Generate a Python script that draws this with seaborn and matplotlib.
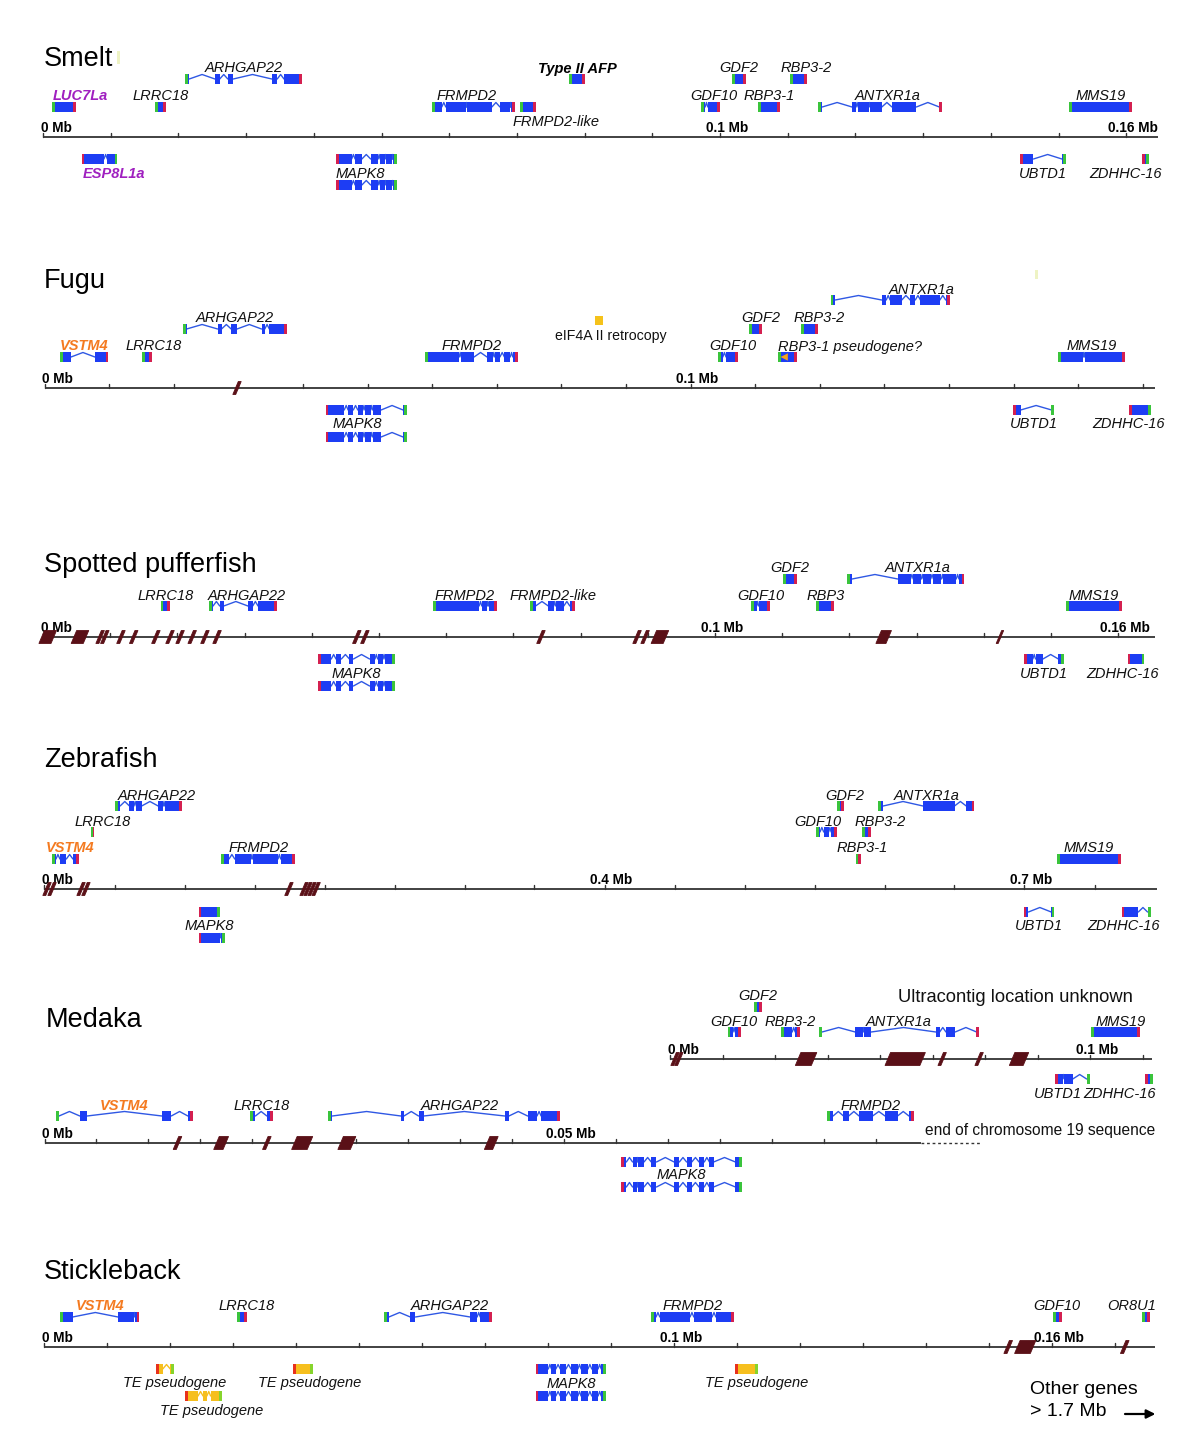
import numpy as np
import matplotlib
matplotlib.use("Agg")
import matplotlib.pyplot as plt
import seaborn as sns
from matplotlib.patches import Polygon, Rectangle

sns.set_theme(style="white")
plt.rcParams['font.family'] = ['Liberation Sans', 'DejaVu Sans']

# ------------------------------------------------------------------ data (kb)
SMELT_GENES = [
    ("LUC7La", [(1.4, 4.9)], "A"),
    ("LRRC18", [(16.5, 18.2)], "A"),
    ("ARHGAP22", [(21.0, 21.6), (25.4, 26.1), (27.3, 28.1), (33.8, 34.6), (35.6, 38.3)], "B"),
    ("FRMPD2", [(57.5, 58.9), (59.5, 62.5), (62.6, 66.3), (67.5, 69.0), (69.1, 69.7)], "A"),
    ("FRMPD2-like", [(70.5, 72.8)], "A"),
    ("Type II AFP", [(77.7, 80.1)], "B"),
    ("GDF10", [(97.2, 97.8), (98.2, 100.0)], "A"),
    ("GDF2", [(101.8, 103.8)], "B"),
    ("RBP3-1", [(105.6, 108.9)], "A"),
    ("RBP3-2", [(110.3, 112.8)], "B"),
    ("ANTXR1a", [(114.5, 115.1), (119.5, 120.1), (120.4, 122.0), (122.2, 123.9), (125.4, 129.0), (132.4, 132.8)], "A"),
    ("MMS19", [(151.6, 160.9)], "A"),
    ("ESP8L1a", [(5.7, 9.0), (9.5, 11.0)], "L1"),
    ("MAPK8", [(43.3, 45.6), (46.1, 47.1), (48.4, 49.5), (49.8, 50.5), (50.7, 51.6), (51.7, 52.3)], "L1"),
    ("", [(43.3, 45.6), (46.1, 47.1), (48.4, 49.5), (49.8, 50.5), (50.7, 51.6), (51.7, 52.3)], "L2"),
    ("UBTD1", [(144.3, 146.3), (150.5, 151.1)], "L1"),
    ("ZDHHC-16", [(162.3, 163.4)], "L1"),
]
SMELT_BREAKS = []
SMELT_TICKS = [(0, "0 Mb"), (100, "0.1 Mb"), (160, "0.16 Mb")]
SMELT_FAINT = (10.9, 11.4)

FUGU_GENES = [
    ("VSTM4", [(2.4, 4.1), (7.8, 9.9)], "A"),
    ("LRRC18", [(15.1, 16.6)], "A"),
    ("ARHGAP22", [(21.4, 22.0), (26.8, 27.4), (28.9, 29.8), (33.6, 34.1), (34.8, 37.5)], "B"),
    ("FRMPD2", [(58.9, 64.2), (64.5, 66.5), (68.5, 69.4), (69.7, 70.5), (71.2, 72.1), (72.5, 73.3)], "A"),
    ("GDF10", [(104.3, 105.0), (105.5, 107.3)], "A"),
    ("RBP3-1 pseudogene?", [(113.5, 116.5)], "A"),
    ("GDF2", [(109.1, 111.0)], "B"),
    ("RBP3-2", [(117.1, 119.7)], "B"),
    ("ANTXR1a", [(121.7, 122.4), (129.6, 130.3), (130.9, 132.7), (134.0, 134.8), (135.6, 138.6), (139.5, 140.1)], "C"),
    ("MMS19", [(156.9, 160.8), (161.0, 167.3)], "A"),
    ("MAPK8", [(43.5, 46.4), (47.0, 47.8), (48.5, 49.3), (49.6, 50.5), (50.8, 52.1), (55.5, 56.1)], "L1"),
    ("", [(43.5, 46.4), (47.0, 47.8), (48.5, 49.3), (49.6, 50.5), (50.8, 52.1), (55.5, 56.1)], "L2"),
    ("UBTD1", [(149.9, 151.1), (155.9, 156.3)], "L1"),
    ("ZDHHC-16", [(167.9, 171.3)], "L1"),
]
FUGU_BREAKS = [(29.8, 0.45)]
FUGU_TICKS = [(0, "0 Mb"), (100, "0.1 Mb")]
FUGU_RETRO = (85.2, 86.5)          # eIF4A II retrocopy
FUGU_PSEUDO_MARK = 114.5           # triangle inside RBP3-1 pseudogene
FUGU_FAINT = (153.3, 153.8)

SPOT_GENES = [
    ("LRRC18", [(17.5, 18.9)], "A"),
    ("ARHGAP22", [(24.7, 25.3), (26.3, 26.9), (30.5, 31.2), (32.0, 34.8)], "A"),
    ("FRMPD2", [(58.1, 64.9), (65.3, 66.1), (66.3, 67.5)], "A"),
    ("FRMPD2-like", [(72.5, 73.3), (75.2, 76.0), (76.3, 77.5), (78.4, 79.2)], "A"),
    ("GDF10", [(105.4, 106.2), (106.5, 108.2)], "A"),
    ("RBP3", [(115.1, 117.7)], "A"),
    ("MMS19", [(152.2, 160.6)], "A"),
    ("GDF2", [(110.1, 112.2)], "B"),
    ("ANTXR1a", [(119.6, 120.4), (127.2, 129.1), (129.5, 130.7), (131.0, 132.1), (132.5, 133.7), (134.0, 135.9), (136.3, 137.1)], "B"),
    ("MAPK8", [(40.9, 42.9), (43.6, 44.4), (45.6, 46.2), (48.6, 49.4), (49.8, 50.6), (50.9, 52.4)], "L1"),
    ("", [(40.9, 42.9), (43.6, 44.4), (45.6, 46.2), (48.6, 49.4), (49.8, 50.6), (50.9, 52.4)], "L2"),
    ("UBTD1", [(146.0, 147.3), (147.7, 148.8), (151.1, 151.9)], "L1"),
    ("ZDHHC-16", [(161.4, 163.9)], "L1"),
]
SPOT_BREAKS = [(0.7, 1.8), (5.5, 1.8), (8.5, 0.45), (9.2, 0.45), (11.6, 0.45), (13.5, 0.45),
               (16.8, 0.45), (18.9, 0.45), (20.4, 0.45), (22.2, 0.45), (24.1, 0.45), (25.9, 0.45),
               (46.7, 0.45), (47.9, 0.45), (74.1, 0.45), (88.4, 0.45), (89.6, 0.45), (91.8, 1.8),
               (125.1, 1.5), (142.4, 0.3)]
SPOT_TICKS = [(0, "0 Mb"), (100, "0.1 Mb"), (160, "0.16 Mb")]

ZEB_GENES = [
    ("VSTM4", [(5.5, 8.2), (11.0, 15.6), (20.3, 24.6)], "A"),
    ("FRMPD2", [(126.4, 131.8), (135.9, 147.6), (148.7, 166.8), (168.7, 178.8)], "A"),
    ("RBP3-1", [(579.6, 583.1)], "A"),
    ("MMS19", [(723.1, 768.9)], "A"),
    ("LRRC18", [(33.4, 35.6)], "B"),
    ("GDF10", [(550.9, 553.9), (556.6, 560.1), (561.9, 565.9)], "B"),
    ("RBP3-2", [(583.9, 590.5)], "B"),
    ("ARHGAP22", [(50.4, 54.0), (60.7, 63.9), (65.6, 69.4), (81.2, 84.8), (85.9, 98.4)], "C"),
    ("GDF2", [(566.4, 571.2)], "C"),
    ("ANTXR1a", [(595.5, 599.0), (627.5, 650.0), (658.4, 664.2)], "C"),
    ("MAPK8", [(110.0, 125.0)], "L1"),
    ("", [(110.0, 125.0), (126.0, 129.0)], "L2"),
    ("UBTD1", [(699.4, 702.8), (719.1, 721.3)], "L1"),
    ("ZDHHC-16", [(769.4, 781.3), (787.9, 790.5)], "L1"),
]
ZEB_BREAKS = [(1.8, 2.1), (5.4, 2.1), (26.1, 2.1), (29.6, 2.1), (174.6, 2.1),
              (185.4, 2.1), (188.2, 2.1), (191.1, 2.1), (194.0, 2.1)]
ZEB_TICKS = [(0, "0 Mb"), (400, "0.4 Mb"), (700, "0.7 Mb")]

MEDU_GENES = [
    ("GDF10", [(13.7, 15.0), (15.5, 16.8)], "A"),
    ("RBP3-2", [(26.5, 29.1), (29.8, 30.9)], "A"),
    ("ANTXR1a", [(35.5, 36.2), (44.1, 46.0), (46.3, 47.9), (63.3, 64.2), (65.7, 67.9), (73.0, 73.6)], "A"),
    ("MMS19", [(100.3, 111.9)], "A"),
    ("GDF2", [(20.1, 21.9)], "B"),
    ("UBTD1", [(91.7, 93.5), (93.9, 95.9), (99.2, 100.0)], "L1"),
    ("ZDHHC-16", [(113.1, 115.0)], "L1"),
]
MEDU_BREAKS = [(1.2, 0.7), (2.1, 0.7), (32.4, 3.8), (56.0, 8.3), (64.8, 0.7), (73.6, 0.7), (83.1, 3.3)]
MEDU_TICKS = [(0, "0 Mb"), (100, "0.1 Mb")]

MEDL_GENES = [
    ("VSTM4", [(1.1, 1.4), (3.4, 4.1), (11.3, 12.2), (13.8, 14.3)], "A"),
    ("LRRC18", [(19.8, 20.3), (21.4, 22.0)], "A"),
    ("ARHGAP22", [(27.3, 27.7), (34.3, 34.6), (36.0, 36.5), (44.3, 44.7), (46.5, 47.4), (47.8, 49.6)], "A"),
    ("FRMPD2", [(75.3, 75.9), (76.9, 77.4), (78.4, 79.7), (80.9, 82.1), (83.2, 83.7)], "A"),
    ("MAPK8", [(55.5, 56.0), (56.6, 57.0), (57.1, 57.7), (58.4, 58.9), (60.6, 61.1), (61.8, 62.3), (63.0, 63.5), (64.0, 64.4), (66.5, 67.1)], "L1"),
    ("", [(55.5, 56.0), (56.6, 57.0), (57.1, 57.7), (58.4, 58.9), (60.6, 61.1), (61.8, 62.3), (63.0, 63.5), (64.0, 64.4), (66.5, 67.1)], "L2"),
]
MEDL_BREAKS = [(12.8, 0.3), (17.0, 0.9), (21.4, 0.3), (24.8, 1.5), (29.1, 1.2), (43.0, 0.8)]
MEDL_TICKS = [(0, "0 Mb"), (50, "0.05 Mb")]

STK_GENES = [
    ("VSTM4", [(2.5, 4.5), (11.7, 14.2), (14.4, 15.1)], "A"),
    ("LRRC18", [(30.6, 32.2)], "A"),
    ("ARHGAP22", [(53.9, 54.7), (58.1, 58.9), (67.6, 68.7), (69.2, 71.1)], "A"),
    ("FRMPD2", [(96.3, 97.1), (97.7, 102.5), (103.1, 106.0), (106.6, 109.5)], "A"),
    ("GDF10", [(160.1, 161.5)], "A"),
    ("OR8U1", [(174.3, 175.5)], "A"),
    ("MAPK8", [(78.0, 80.0), (80.5, 81.2), (81.9, 82.8), (83.6, 84.7), (85.2, 86.3), (86.9, 87.9), (88.4, 89.2)], "L1"),
    ("", [(78.0, 80.0), (80.5, 81.2), (81.9, 82.8), (83.6, 84.7), (85.2, 86.3), (86.9, 87.9), (88.4, 89.2)], "L2"),
]
STK_TE = [([(17.7, 18.8), (20.0, 20.6)], "L1"),
          ([(22.3, 24.4), (25.2, 25.8), (26.4, 28.2)], "L2"),
          ([(39.5, 42.6)], "L1"),
          ([(109.6, 113.3)], "L1")]
STK_BREAKS = [(153.0, 0.5), (155.7, 2.5), (171.5, 0.5)]
STK_TICKS = [(0, "0 Mb"), (100, "0.1 Mb"), (160, "0.16 Mb")]

# ------------------------------------------------------------------ style
W, H = 1200, 1449
BLUE = "#1d3df4"
BLUE_LINE = "#2f58e4"
GREEN = "#3ac43c"
RED = "#d42050"
TE_BODY = "#f6bf1e"
TE_RED = "#e8311c"
TE_GREEN = "#86d42c"
BREAK = "#5a1017"
AXIS = "#333333"
PURPLE = "#a020c0"
ORANGE = "#f47a20"
BOX_H = 10
CAP_PX = 2.8
LABEL_FS = 10.5

SPECIAL = {"LUC7La": (PURPLE, "bold"), "ESP8L1a": (PURPLE, "bold"),
           "VSTM4": (ORANGE, "bold"), "Type II AFP": ("black", "bold")}

fig = plt.figure(figsize=(W / 100, H / 100), dpi=100)


def make_track(y_axis, x0, s, above=118, below=82):
    ax = fig.add_axes([0, 1 - (y_axis + below) / H, 1, (above + below) / H])
    ax.set_xlim(-x0 / s, (W - x0) / s)
    ax.set_ylim(-below, above)
    ax.axis("off")
    ax.patch.set_alpha(0)
    return ax


def draw_axis(ax, s, end, step, ticks, breaks):
    ax.plot([0, end], [0, 0], color=AXIS, lw=1.3, zorder=1, solid_capstyle="butt")
    for t in np.arange(0, end - 0.01, step):
        ax.plot([t, t], [0, 4], color=AXIS, lw=1.0, zorder=1)
    for t, lab in ticks:
        if t == 0:
            ax.text(t - 2 / s, 5, lab, ha="left", va="baseline", fontsize=9.8, fontweight="bold", color="black")
        else:
            ax.text(t + 7 / s, 5, lab, ha="center", va="baseline", fontsize=9.8, fontweight="bold", color="black")
    lean = 5.5 / s
    for c, w in breaks:
        pts = [(c - w / 2 - lean / 2, -6.5), (c + w / 2 - lean / 2, -6.5),
               (c + w / 2 + lean / 2, 6.5), (c - w / 2 + lean / 2, 6.5)]
        ax.add_patch(Polygon(pts, closed=True, facecolor=BREAK, edgecolor=BREAK, lw=0.6, zorder=4))


def draw_gene(ax, s, exons, y, lcap, rcap, body=BLUE, line=BLUE_LINE):
    for i, (a, b) in enumerate(exons):
        ax.add_patch(Rectangle((a, y - BOX_H / 2), b - a, BOX_H, facecolor=body, edgecolor="none", lw=0, zorder=3))
        if i > 0:
            pa = exons[i - 1][1]
            m = (pa + a) / 2
            ax.plot([pa, m, a], [y, y + BOX_H / 2 - 0.5, y], color=line, lw=1.0, zorder=2)
    start, end = exons[0][0], exons[-1][1]
    cap = min(CAP_PX / s, (end - start) / 2)
    ax.add_patch(Rectangle((start, y - BOX_H / 2), cap, BOX_H, facecolor=lcap, edgecolor="none", lw=0, zorder=4))
    ax.add_patch(Rectangle((end - cap, y - BOX_H / 2), cap, BOX_H, facecolor=rcap, edgecolor="none", lw=0, zorder=4))


def draw_label(ax, s, exons, y, text, where, ha, dx, color="#111111", weight="normal", gap=2.5):
    if ha == "left":
        x = exons[0][0]
    else:
        x = (exons[0][0] + exons[-1][1]) / 2
    x += dx / s
    if where == "up":
        ax.text(x, y + BOX_H / 2 + 1.5, text, ha=ha, va="baseline", fontsize=LABEL_FS,
                style="italic", color=color, fontweight=weight)
    else:
        ax.text(x, y - BOX_H / 2 - gap, text, ha=ha, va="top", fontsize=LABEL_FS,
                style="italic", color=color, fontweight=weight)


def draw_genes(ax, s, genes, rows, opts, gap=2.5):
    for name, exons, row in genes:
        y = rows[row]
        upper = y > 0
        if upper:
            draw_gene(ax, s, exons, y, GREEN, RED)
        else:
            draw_gene(ax, s, exons, y, RED, GREEN)
        if name:
            where, ha, dx = opts.get(name, ("up" if upper else "down", "center", 0))
            color, weight = SPECIAL.get(name, ("#111111", "normal"))
            draw_label(ax, s, exons, y, name, where, ha, dx, color, weight, gap)


def title(text, x, y_base):
    fig.text(x / W, 1 - y_base / H, text, fontsize=19.5, ha="left", va="baseline", color="black")


# ------------------------------------------------------------------ Smelt
s = 6.77
ax = make_track(137, 43, s)
draw_axis(ax, s, 164.7, 10, SMELT_TICKS, SMELT_BREAKS)
draw_genes(ax, s, SMELT_GENES, {"A": 30, "B": 58, "L1": -22, "L2": -48},
           {"LUC7La": ("up", "left", 0), "ESP8L1a": ("down", "left", 1),
            "FRMPD2-like": ("down", "left", -8), "MAPK8": ("down", "center", -6),
            "ZDHHC-16": ("down", "center", -20), "FRMPD2": ("up", "center", -7),
            "ANTXR1a": ("up", "center", 8), "RBP3-2": ("up", "center", 8),
            "GDF10": ("up", "center", 3)})
ax.add_patch(Rectangle((SMELT_FAINT[0], 73), SMELT_FAINT[1] - SMELT_FAINT[0], 13,
                       facecolor="#eef3c4", edgecolor="none", zorder=1))
title("Smelt", 44, 66)

# ------------------------------------------------------------------ Fugu
s = 6.46
ax = make_track(388, 44.5, s)
draw_axis(ax, s, 171.9, 10, FUGU_TICKS, FUGU_BREAKS)
draw_genes(ax, s, FUGU_GENES, {"A": 31, "B": 59, "C": 88, "L1": -22, "L2": -49},
           {"LRRC18": ("up", "center", 7), "GDF10": ("up", "center", 5),
            "GDF2": ("up", "center", 5), "RBP3-2": ("up", "center", 10),
            "ANTXR1a": ("up", "center", 32), "MAPK8": ("down", "center", -9),
            "ZDHHC-16": ("down", "center", -12),
            "RBP3-1 pseudogene?": ("up", "left", 0)})
ax.add_patch(Rectangle((FUGU_RETRO[0], 67.5 - 4.5), FUGU_RETRO[1] - FUGU_RETRO[0], 9,
                       facecolor="#f5c21a", edgecolor="none", zorder=3))
ax.add_patch(Rectangle((FUGU_FAINT[0], 109), FUGU_FAINT[1] - FUGU_FAINT[0], 11,
                       facecolor="#eef3c4", edgecolor="none", zorder=1))
ax.text((FUGU_RETRO[0] + FUGU_RETRO[1]) / 2 + 12 / s, 52, "eIF4A II retrocopy", ha="center",
        va="center", fontsize=10.2, color="#111111")
sns.scatterplot(x=[FUGU_PSEUDO_MARK], y=[31], marker="<", color="#f3a31c", s=28,
                edgecolor="none", ax=ax, legend=False, zorder=5)
ax.set_xlim(-44.5 / s, (W - 44.5) / s)
ax.set_ylim(-82, 118)
ax.axis("off")
title("Fugu", 44, 288)

# ------------------------------------------------------------------ Spotted pufferfish
s = 6.72
ax = make_track(637, 43, s)
draw_axis(ax, s, 165.5, 10, SPOT_TICKS, SPOT_BREAKS)
draw_genes(ax, s, SPOT_GENES, {"A": 31, "B": 58, "L1": -22, "L2": -49},
           {"ARHGAP22": ("up", "center", 4), "ANTXR1a": ("up", "center", 12),
            "ZDHHC-16": ("down", "center", -13)})
title("Spotted pufferfish", 44, 572)

# ------------------------------------------------------------------ Zebrafish
s = 1.40
ax = make_track(889, 44.5, s)
draw_axis(ax, s, 794.5, 50, ZEB_TICKS, ZEB_BREAKS)
draw_genes(ax, s, ZEB_GENES, {"A": 30, "B": 57, "C": 83, "L1": -23, "L2": -49},
           {"VSTM4": ("up", "center", 5), "LRRC18": ("up", "center", 10),
            "ARHGAP22": ("up", "center", 8), "GDF10": ("up", "center", -8),
            "RBP3-2": ("up", "center", 14), "RBP3-1": ("up", "center", 4),
            "GDF2": ("up", "center", 4), "ZDHHC-16": ("down", "center", -13)})
title("Zebrafish", 44, 767)

# ------------------------------------------------------------------ Medaka (ultracontig)
s = 4.2
ax = make_track(1059, 670, s, above=90, below=50)
draw_axis(ax, s, 114.8, 12.5, MEDU_TICKS, MEDU_BREAKS)
draw_genes(ax, s, MEDU_GENES, {"A": 27, "B": 52, "L1": -20},
           {"UBTD1": ("down", "center", -15), "ZDHHC-16": ("down", "center", -29),
            "MMS19": ("up", "center", 5)})
ax.text(54.3, 61, "Ultracontig location unknown", ha="left", va="center", fontsize=13.2, color="#111111")

# ------------------------------------------------------------------ Medaka (chromosome 19)
s = 10.39
ax = make_track(1143, 44.5, s, above=60, below=70)
draw_axis(ax, s, 84.4, 5, MEDL_TICKS, MEDL_BREAKS)
ax.plot([84.4, 90.0], [0, 0], color=AXIS, lw=1.0, ls=(0, (2, 2)), zorder=1)
draw_genes(ax, s, MEDL_GENES, {"A": 27, "L1": -19, "L2": -44},
           {"ARHGAP22": ("up", "center", 16)}, gap=1.0)
ax.text(84.7, 13, "end of chromosome 19 sequence", ha="left", va="center", fontsize=11.2, color="#111111")
title("Medaka", 46, 1027)

# ------------------------------------------------------------------ Stickleback
s = 6.3
ax = make_track(1347, 44.3, s, above=100, below=100)
draw_axis(ax, s, 176.3, 10, STK_TICKS, STK_BREAKS)
STK_ROWS = {"A": 30, "L1": -22, "L2": -49}
draw_genes(ax, s, STK_GENES, STK_ROWS,
           {"LRRC18": ("up", "center", 5), "ARHGAP22": ("up", "center", 12),
            "OR8U1": ("up", "center", -15)})
for (exons, row), dx in zip(STK_TE, [10, 8, 7, 10]):
    y = STK_ROWS[row]
    draw_gene(ax, s, exons, y, TE_RED, TE_GREEN, body=TE_BODY, line=TE_BODY)
    draw_label(ax, s, exons, y, "TE pseudogene", "down", "center", dx)
ax.text(156.5, -43, "Other genes", ha="left", va="center", fontsize=14, color="black")
ax.text(156.5, -65, "> 1.7 Mb", ha="left", va="center", fontsize=14, color="black")
ax.annotate("", xy=(176.8, -67), xytext=(171.1, -67),
            arrowprops=dict(arrowstyle="-|>", lw=1.6, color="black", mutation_scale=13))
title("Stickleback", 44, 1279)

fig.savefig("out.png", dpi=100, facecolor="white")
